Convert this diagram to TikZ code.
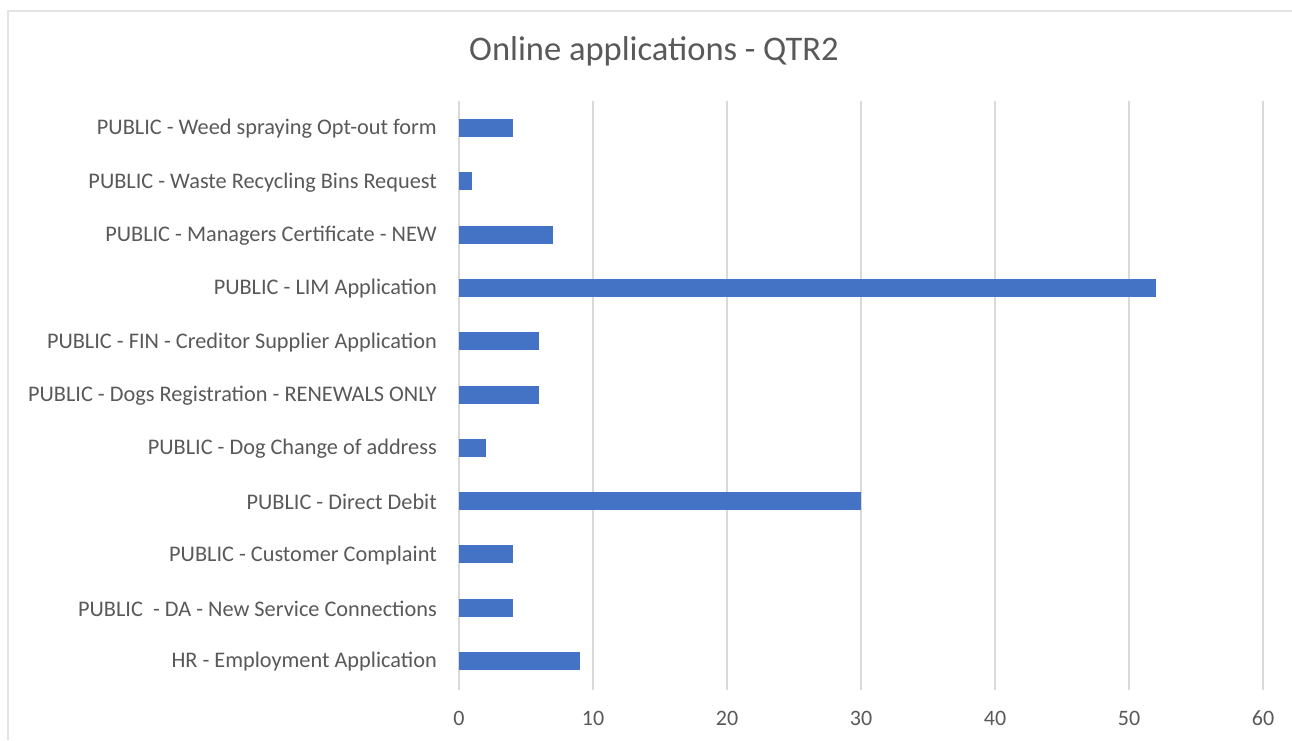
\documentclass[tikz,border=0pt]{standalone}
\usepackage{fontspec}
\setmainfont{Carlito}
\usetikzlibrary{positioning}
\definecolor{barblue}{HTML}{4472C4}
\definecolor{gridgray}{HTML}{D9D9D9}
\definecolor{textgray}{HTML}{595959}
\definecolor{framegray}{HTML}{E3E3E3}

\begin{document}
\begin{tikzpicture}[x=1pt,y=-1pt,
    catlabel/.style={anchor=east,text=textgray,inner sep=0pt,
      font=\fontsize{22.3}{24}\selectfont},
    ticklabel/.style={text=textgray,inner sep=0pt,
      font=\fontsize{22}{24}\selectfont},
    gridline/.style={draw=gridgray,line width=1.4pt},
    barfill/.style={fill=barblue}]
    \useasboundingbox (0,0) rectangle (1292,740);
    \fill[white] (0,0) rectangle (1292,740);
    % chart frame
    \draw[framegray,line width=2.5pt] (8,740) -- (8,11) -- (1292,11);
    % title
    \node[text=textgray,font=\fontsize{34.5}{38}\selectfont] (title) at (654,51) {Online applications - QTR2};
    % value axis: gridlines and ticks
    \foreach \v in {0,10,...,60} {
        \draw[gridline] ({459+13.4*\v},101) -- ({459+13.4*\v},690);
        \node[ticklabel] (tick\v) at ({459+13.4*\v},718) {\v};
    }
    % bars and categories
    \foreach \lab/\val [count=\i from 0] in {
        PUBLIC - Weed spraying Opt-out form/4,
        PUBLIC - Waste Recycling Bins Request/1,
        PUBLIC - Managers Certificate - NEW/7,
        PUBLIC - LIM Application/52,
        PUBLIC - FIN - Creditor Supplier Application/6,
        PUBLIC - Dogs Registration - RENEWALS ONLY/6,
        PUBLIC - Dog Change of address/2,
        PUBLIC - Direct Debit/30,
        PUBLIC - Customer Complaint/4,
        PUBLIC\ \ - DA - New Service Connections/4,
        HR - Employment Application/9} {
        \fill[barfill] (459,{128+53.3*\i-9}) rectangle ({459+13.4*\val},{128+53.3*\i+9});
        \node[catlabel] (cat\i) at (437,{129+53.3*\i}) {\lab};
    }
\end{tikzpicture}
\end{document}
